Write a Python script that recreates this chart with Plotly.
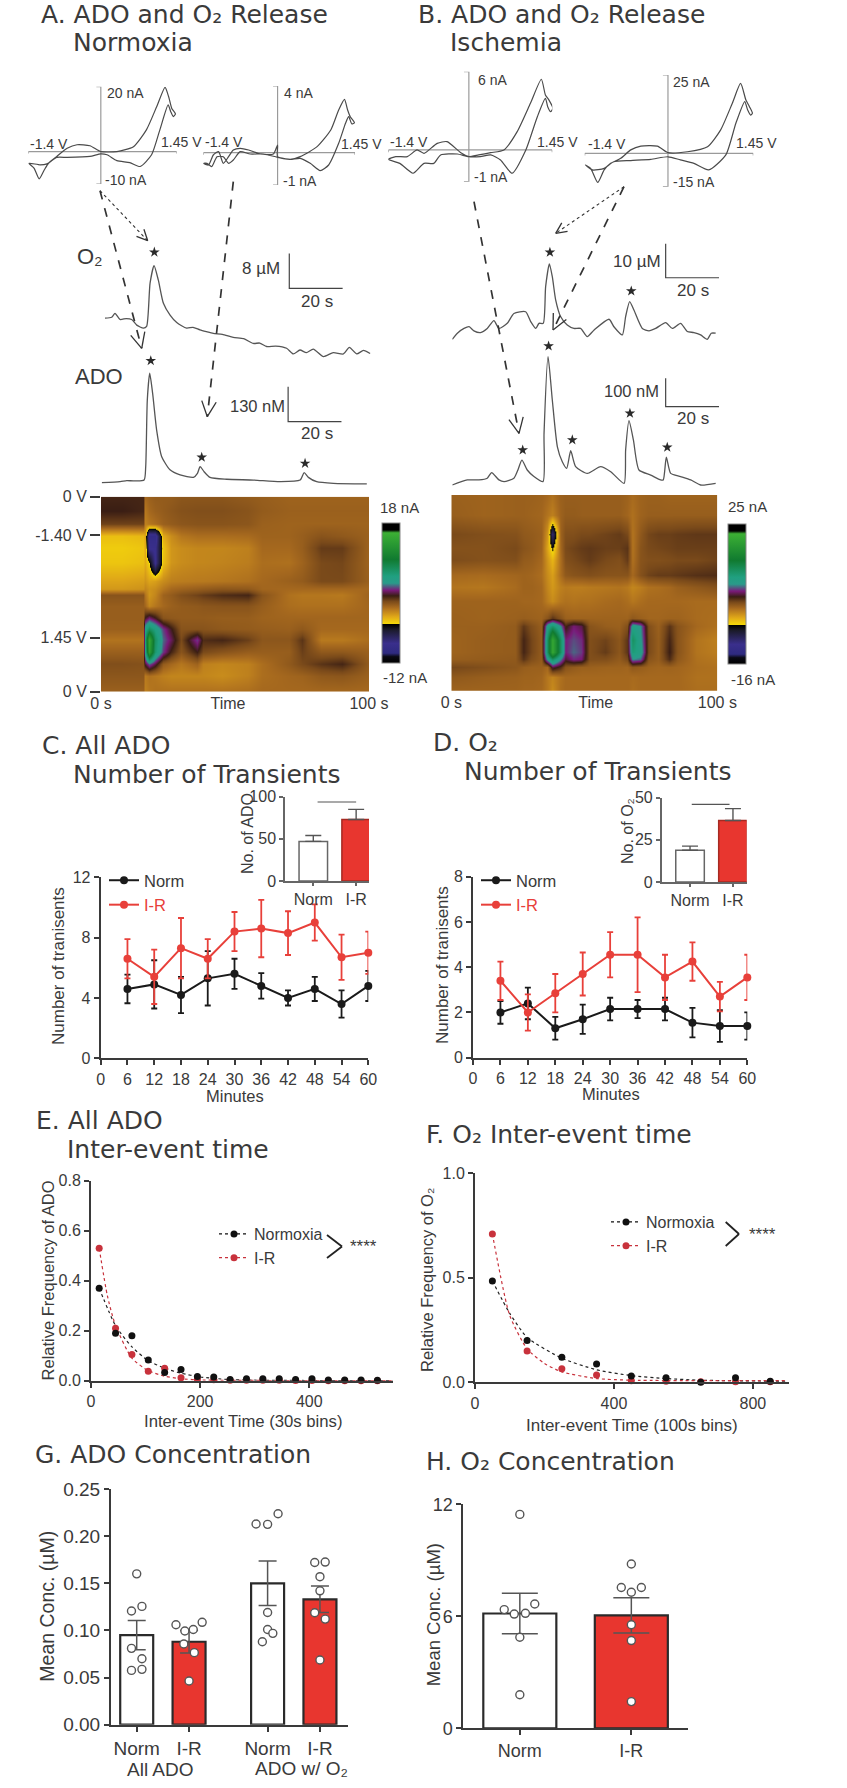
import math
import plotly.graph_objects as go

W, H = 847, 1788
INK = "#3a3a3a"
RED = "#e8362f"
TRACE = "#555555"
FONT = "Liberation Sans"
TITLE_FONT = "DejaVu Sans"

# ---------- Panel A / B traces (seconds, uM or nM) ----------
a_o2_t = [0,2.5,3.75,5.6,8,10,11.9,14.4,15.6,16.9,18.4,20,21.9,24.4,26.9,30.6,33,35.6,38,40.6,44,48.1,52,55.6,58,60.6,64,68.1,70.6,73.1,75.5,78.1,81.9,85.6,89.4,91.6,94.4,96.9,99.4]
a_o2_v = [9.2,9.4,10.3,8.9,9.1,8.9,7.6,6.9,7.3,17.2,21.2,17.9,12.6,9.9,8.2,6.9,7.1,6.5,6.1,5.7,5.5,4.8,4.5,3.4,3.5,2.7,2.8,2.3,1.0,1.9,1.3,2.1,0.4,1.3,1.0,2.5,1.0,1.8,1.1]
a_o2_bar_t = [89.1,69.1,69.1]
a_o2_bar_v = [16,16,24]
a_o2_star_t = [18.5]
a_o2_star_v = [24.3]

a_ado_t = [0,6.9,9.4,11.9,15.9,16.5,17.1,18,19.1,20.6,22.5,25.6,29.4,34.4,35.9,36.9,38.4,40.6,46.9,56.9,66.9,74.4,75.9,77.5,80.6,86.9,99.4]
a_ado_v = [2.5,6,10,9,12,62,310,409,334,198,99,50,31,22,37,62,43,22,15,12,6,12,40,22,6,0,-2]
a_ado_bar_t = [89.9,69.9,69.9]
a_ado_bar_v = [229,229,359]
a_ado_star_t = [18.4,37.5,76.25]
a_ado_star_v = [455.6,96.6,74]

b_o2_t = [0,1.9,4.4,6.3,8.1,10.6,13.1,15.6,17.5,20.6,23.1,27.5,29.4,31.3,32.5,34.1,35,36.4,37.5,38.75,40.6,43.1,45.6,48.1,50.6,53.1,58.75,60.6,63.75,65,66.5,68.1,71.25,73.75,76.25,80,82.5,85.6,88.1,90.6,93.1,95.6,97.1,98.75]
b_o2_v = [0.2,2,3.4,3.9,2.7,2.2,3.4,5.7,3.4,4.9,7.8,8.3,5.4,3.4,4.9,4.9,15.7,22.4,18.6,11.8,6.9,4.4,3.4,3.4,1,2.9,6.1,3.9,1.5,6.9,11.3,8.8,3.4,2.7,3.4,5.1,3.4,4.9,2.5,2.2,1.5,0.2,2,2]
b_o2_bar_t = [100,80,80]
b_o2_bar_v = [18.3,18.3,28.3]
b_o2_star_t = [36.6,67.1]
b_o2_star_v = [25.8,14.4]

b_ado_t = [0,5.6,10,13.1,14.75,17.5,19.4,23.1,24.6,26.1,28.1,30.6,34,34.4,35.9,37.5,39.4,41.25,42.9,44.4,46.25,50.6,55.6,59.4,64.4,65,66.25,67.9,70,74.4,78.1,79.1,80.25,81.9,85.6,89.4,93.1,98.75]
b_ado_v = [-6,12,12,18,38,12,6,18,47,82,47,24,6,176,447,294,129,76,53,115,59,35,59,41,0,118,221,153,47,29,12,12,92,35,24,12,-6,0]
b_ado_bar_t = [100,80,80]
b_ado_bar_v = [270.5,270.5,370.5]
b_ado_star_t = [36.1,26.4,45,66.6,80.6]
b_ado_star_v = [484.6,117.6,153,247,127]

# ---------- Cyclic voltammograms (V, nA) ----------
cv_a1_v = [-1.39,-1.29,-1.19,-1.09,-1.01,-.85,-.65,-.46,-.21,0,.31,.63,.88,1.08,1.24,1.31,1.37,1.44,1.40,1.35,1.30,1.14,.98,.76,.56,.31,.12,0,-.21,-.65,-.85,-1.04,-1.17,-1.39]
cv_a1_i = [-3.6,-5.1,-8.4,-5.6,-3.6,-1.5,1,2.1,1.8,0,0,1.5,6.7,13.9,19.8,16.9,13.3,11.6,10.8,12.3,14.4,6.7,-1,-4.6,-3.4,-2.8,-1,-.7,-1.5,-1.8,-1.8,-3.8,-4.1,-3.6]
cv_a2_v = [-1.41,-1.31,-1.22,-1.12,-1.03,-.93,-.84,-.71,-.55,-.33,-.08,0,0,.24,.43,.75,1.01,1.16,1.27,1.33,1.38,1.46,1.41,1.35,1.29,1.16,.97,.81,.62,.43,.24,0,-.27,-.52,-.71,-.84,-.93,-1.03,-1.15,-1.25,-1.34,-1.41]
cv_a2_i = [-.64,-.74,-.14,.06,-.64,-.24,.16,.26,.16,-.08,-.08,.46,-.24,-.4,-.24,.36,1.36,2.56,3.2,2.56,2.16,1.8,1.72,2.16,1.76,.56,-.74,-1.08,-.64,-.34,-.4,-.28,-.08,-.08,.06,-.44,-.64,-.24,-.24,-.84,-.64,-.64]
cv_b1_v = [-1.40,-1.2,-.97,-.78,-.61,-.49,-.2,0,.17,.38,.61,.84,1.07,1.26,1.33,1.39,1.46,1.42,1.37,1.33,1.19,.99,.75,.55,.38,.2,0,-.14,-.38,-.55,-.78,-.9,-1.07,-1.27,-1.40]
cv_b1_i = [-.72,-1.03,-1.79,-1.03,-1.03,-.38,-.31,-.51,-.38,-.21,0,1.41,3.59,5.44,4.23,3.85,3.2,2.95,3.33,3.97,2.56,0,-1.79,-.77,-.38,-.51,-.51,-.21,.64,.51,-.26,0,-.51,-.51,-.72]
cv_b2_v = [-1.4,-1.31,-1.19,-1.08,-.97,-.80,-.63,-.46,-.18,0,.33,.67,.89,1.09,1.23,1.32,1.38,1.43,1.40,1.35,1.3,1.15,.98,.69,.44,.21,0,-.29,-.63,-.92,-1.08,-1.28,-1.4]
cv_b2_i = [-3.7,-4.8,-9.3,-5.3,-3.2,-1.6,1.1,2.3,2.3,.2,.5,2.1,7.4,16,22.3,17,14.9,12.8,12.2,13.8,16.5,9.6,-.5,-5.3,-3.2,-2.1,-1.1,-1.9,-2.3,-2.7,-4.8,-5.3,-3.7]

# ---------- Colour plots (nA on the -12..18 scale) ----------
hm_a_t = [0,8,15.5,16.5,18,20,23,26,30,36,38,45,55,60,70,75,82,90,100]
hm_a_pos = [0,7,14,20,26,34,43,47,50,56,62,67.5,73.5,79.5,85.5,92,100]
hm_a_z = [
[2.2,2.2,2.2,0,.3,.5,.5,.5,.7,.7,.7,.7,.5,.4,.2,.2,.2,.2,.2],
[2.4,2.4,2.2,-.5,0,.3,.5,.7,.9,1,1,1,.8,.5,.3,.3,.3,.3,.3],
[1.4,1.4,1.4,-.8,-.5,-.2,.3,.5,.7,.8,.8,.8,.7,.3,.2,.2,.2,.2,.2],
[-2.8,-2.8,-2.6,-2,-9,-9,-2.2,-1.2,-.5,-.2,-.2,-.2,-.1,.2,.2,.4,.8,.6,.3],
[-3.2,-3.2,-3,-2.2,-8,-8,-3,-1.5,-1.2,-1,-1,-1,-.8,0,0,.4,1.6,1.6,.2],
[-3,-3,-2.8,-2.2,-3.5,-8,-2.8,-1.5,-1.2,-1,-1,-.9,-.7,-.2,-.3,.2,1.2,1.3,.2],
[-2,-2,-1.8,-1.5,-2,-1.8,-1.2,-.8,-.7,-.6,-.6,-.5,-.3,0,.3,.5,1.2,1.2,.3],
[-1.6,-1.6,-1.4,-1,-1.4,-1.2,-.5,0,.2,.4,.5,.7,.6,.1,0,0,0,0,0],
[.8,.8,.8,-.4,-1.5,-1,.2,.5,1,1.4,1.6,2,2.2,.8,-.3,-.5,-.5,-.6,.2],
[.4,.4,.4,0,-1,-.5,0,.3,.5,.6,.7,.8,.8,.4,-.2,-.3,-.3,-.3,.1],
[.4,.4,.4,2.5,3.5,2.5,.8,.6,.5,.5,.5,.4,.4,.2,.1,.1,.1,.1,.1],
[.3,.3,.3,6,8,6.5,4,2.5,.8,.8,.8,.6,.5,.4,.3,.6,0,0,0],
[-.4,-.4,-.4,7,15,8,4.5,3.2,1.2,4,2,2.2,1.5,.7,.7,1.8,-.6,-.6,-.2],
[.3,.3,.3,6,14,7.5,4,2.2,.8,2.4,1.2,.8,.4,.4,.4,1.5,.6,.6,.3],
[1,1,.9,2.8,4.5,3,.5,0,-.5,.2,-.8,-1,-.8,-.2,.6,1.2,1.8,2.2,.5],
[.7,.7,.7,-.6,-.3,-.5,-.8,-1,-1,-1,-1,-1.2,-.8,-.2,.1,.2,.6,.7,.3],
[.3,.3,.3,-.8,-.5,-.3,-.3,-.3,-.3,-.3,-.3,-.3,-.2,0,0,0,0,0,0],
]
hm_a_ticks = [0,19.8,72.3,100]
hm_a_ticktext = ["0 V","-1.40 V","1.45 V","0 V"]

hm_b_t = [0,12,24,27,30,34,36,38,41,43,46,49,52,58,63,66,68,71,74,78,82,85,92,100]
hm_b_pos = [0,10,20,27,33,41,47,54,63,67,74,80,84,88,93,100]
hm_b_z = [
[.3,.2,.3,.3,.3,.2,.0,-.3,.3,.4,.4,.4,.4,.4,.4,.2,-.1,.2,.3,.3,.2,.2,.2,.2],
[.4,.2,.3,.3,.2,.1,-.4,-.8,.2,.5,.5,.4,.4,.4,.4,.1,-.3,.2,.4,.4,.4,.4,.4,.4],
[1.2,1,.9,.6,.5,.3,-1.5,-7,.2,1,1,1.2,1.2,1.4,1.6,1.2,-.4,.6,1.3,1.5,1.5,1.6,1.7,1.7],
[.9,.9,1.2,.8,.6,.2,-2,-4,0,1.2,1.4,1.6,1.7,1.5,1.5,1.8,-.4,.8,1.2,1.3,1.4,1.5,1.5,1.5],
[1.1,.9,1,.5,.4,0,-1.5,-2.5,-.2,1,1.2,1.4,1.6,1.2,1.0,1.6,-.3,.8,1,1,1.1,1.2,1.2,1.4],
[.0,-.1,.1,.2,.1,-.2,-1.2,-1.8,-.2,.6,.8,.9,1,.8,.8,.8,0,.9,1.4,1.6,1.6,1.7,1.9,2],
[-.4,-.5,-.1,.2,.2,0,-1,-1.6,-.8,-.6,-.7,-.7,-.6,-.5,-.4,-.6,-1,-.7,-.3,-.2,0,.3,.6,.9],
[.2,.2,.2,.1,.1,0,-.7,-1.2,-.5,-.3,-.4,-.3,-.3,-.1,0,-.2,-.5,-.2,0,0,0,0,-.1,-.1],
[.3,.2,.3,.4,.3,.2,.8,1.8,.9,.3,.2,.2,.2,.2,.2,.2,.6,.3,.1,.1,.2,.2,-.1,-.2],
[.3,.3,.5,1.7,1.0,.4,6,7.5,5,2.2,3.5,3,.8,.4,.3,1,6,5,1,.3,1.8,.8,0,-.3],
[.2,.4,.5,2.2,1.3,.5,8,15,8,3.6,4.2,3.8,1,1.4,.7,1.8,8,5.5,1.2,.4,2.2,.8,-.4,-.8],
[.2,.4,.5,2.2,1.3,.5,8,15,8,3.6,4.5,4,1,1.6,.7,1.8,7,6,1.2,.4,2.4,.8,-.4,-.7],
[.4,.5,.6,1.8,1,.5,5.5,8,5,2.8,3.8,3.5,1,1,.5,1.2,5,4.5,.8,.4,2,.6,-.3,-.5],
[1.3,1,.7,.4,.3,.3,0,3,2,.8,.5,.3,.3,.2,.2,.1,.6,.4,.2,.1,.2,.1,-.2,-.3],
[.6,.4,.3,.2,.2,.1,-.5,-.9,-.3,0,0,0,0,0,0,0,-.1,0,0,0,0,0,-.3,-.3],
[.2,.2,.2,.1,.1,0,-.5,-1.2,-.2,0,0,0,0,0,0,0,-.2,0,0,0,0,0,-.2,-.2],
]
fscv_scale = [
[0,"#000000"],[.045,"#0a0a14"],[.07,"#2e2a80"],[.14,"#3a2f8c"],[.24,"#1a1a28"],[.275,"#000000"],
[.28,"#f5d90a"],[.33,"#e0a818"],[.38,"#b87a1e"],[.40,"#a5681e"],[.44,"#7a4a1a"],[.48,"#3a1e14"],[.52,"#7a1a7a"],[.57,"#2a9a8a"],
[.62,"#20a080"],[.74,"#107a30"],[.93,"#3cb034"],[.95,"#000000"],[1,"#000000"],
]

# ---------- Panels C / D ----------
minutes = [6,12,18,24,30,36,42,48,54,60]
minute_ticks = [0,6,12,18,24,30,36,42,48,54,60]
c_norm = [4.6,4.9,4.2,5.3,5.6,4.8,4.0,4.6,3.6,4.8]
c_norm_err = [.95,1.6,1.2,1.8,1.0,.85,.5,.8,.9,1.0]
c_ir = [6.6,5.4,7.3,6.6,8.4,8.6,8.3,9.0,6.7,7.0]
c_ir_err = [1.3,1.8,2.0,1.3,1.3,1.9,1.45,1.2,1.5,1.4]
d_norm = [2.0,2.4,1.3,1.7,2.15,2.15,2.15,1.55,1.4,1.4]
d_norm_err = [.5,.7,.5,.65,.5,.4,.5,.65,.7,.6]
d_ir = [3.4,2.0,2.85,3.7,4.55,4.55,3.55,4.25,2.7,3.55]
d_ir_err = [.85,.8,.85,.95,1.0,1.65,1.0,.85,.65,1.0]
inset_groups = ["Norm","I-R"]
c_inset = [47,73]
c_inset_err = [7,12]
d_inset = [18.8,36.5]
d_inset_err = [2.5,7]
c_sig_y = 93.7
d_sig_y = 46

# ---------- Panels E / F ----------
e_x = [15,45,75,105,135,165,195,225,255,285,315,345,375,405,435,465,495,525]
e_norm = [.37,.19,.18,.083,.033,.045,.017,.015,.005,.008,.008,.008,.005,.008,.003,.003,.003,.002]
e_ir = [.53,.21,.105,.038,.05,.012,.005,.004,.002,.002,.002,.002,.001,.001,0,0,0,0]
e_fit_norm_x = [15,45,75,105,135,165,200,250,300,553]
e_fit_norm_y = [.37,.22,.135,.08,.05,.03,.015,.005,.002,0]
e_fit_ir_x = [15,30,45,75,105,135,165,200,553]
e_fit_ir_y = [.53,.34,.22,.09,.04,.018,.008,.003,0]
f_x = [50,150,250,350,450,550,650,750,850]
f_norm = [.485,.2,.12,.088,.03,.022,0,.022,.005]
f_ir = [.71,.15,.065,.035,.008,.005,.003,.003,.003]
f_fit_norm_x = [50,100,150,250,350,450,550,650,900]
f_fit_norm_y = [.485,.33,.215,.115,.06,.032,.018,.01,.005]
f_fit_ir_x = [50,100,150,200,250,350,450,900]
f_fit_ir_y = [.71,.32,.16,.09,.05,.018,.01,.008]

# ---------- Panels G / H ----------
g_pos = [1,2,3.5,4.5]
g_ticks = ["Norm","I-R","Norm","I-R"]
g_means = [.095,.088,.15,.133]
g_errs = [.0155,.012,.0235,.014]
g_pt_x = [[1,.9,1.1,.9,1.1,.9,1.1],[1.75,1.92,2.08,2.25,1.9,2.1,2],[3.28,3.5,3.7,3.5,3.5,3.6,3.4],[4.4,4.6,4.5,4.5,4.4,4.6,4.5]]
g_pt_y = [[.16,.1206,.1255,.081,.07,.0576,.0587],[.106,.0994,.101,.1086,.0856,.0764,.0463],[.2129,.2125,.2238,.119,.101,.0969,.088],[.172,.1725,.157,.142,.1188,.112,.0686]]
h_pos = [1,2]
h_ticks = ["Norm","I-R"]
h_means = [6.15,6.05]
h_errs = [1.08,.94]
h_pt_x = [[1,.86,.95,1.05,1.134,1,1],[2,1.91,2.09,2,2,2,2]]
h_pt_y = [[11.46,6.36,6.12,6.16,6.66,4.875,1.8],[8.8,7.54,7.54,7.29,5.55,4.7,1.43]]

# ---------- Helpers ----------
fig = go.Figure()
layout_axes = {}
counter = [1]
annots = []
shapes = []

def px_x(x): return x / W
def px_y(y): return 1 - y / H

def axes(l, r, t, b, xr, yr, xopt=None, yopt=None):
    counter[0] += 1
    n = counter[0]
    xa = dict(domain=[px_x(l), px_x(r)], anchor=f"y{n}", range=xr, visible=False, fixedrange=True)
    ya = dict(domain=[px_y(b), px_y(t)], anchor=f"x{n}", range=yr, visible=False, fixedrange=True)
    if xopt: xa.update(xopt)
    if yopt: ya.update(yopt)
    layout_axes[f"xaxis{n}"] = xa
    layout_axes[f"yaxis{n}"] = ya
    return f"x{n}", f"y{n}"

def vis(size=16, width=2, ticklen=5, **kw):
    d = dict(visible=True, showline=True, linecolor=INK, linewidth=width, ticks="outside", ticklen=ticklen,
             tickwidth=width, tickcolor=INK, tickfont=dict(size=size, color=INK, family=FONT),
             showgrid=False, zeroline=False)
    d.update(kw)
    return d

def txt(x, y, s, size=15, anchor="left", color=INK, angle=0, family=FONT):
    annots.append(dict(xref="paper", yref="paper", x=px_x(x), y=px_y(y), text=s, showarrow=False,
                       xanchor=anchor, yanchor="middle", textangle=angle,
                       font=dict(size=size, color=color, family=family)))

def title(x, y, s):
    txt(x, y, s, 25, family=TITLE_FONT)

def seg(x0, y0, x1, y1, color=INK, width=1.5, dash="solid"):
    shapes.append(dict(type="line", xref="paper", yref="paper", x0=px_x(x0), y0=px_y(y0), x1=px_x(x1), y1=px_y(y1),
                       line=dict(color=color, width=width, dash=dash)))

def arrow(x0, y0, x1, y1, dash, width, head):
    seg(x0, y0, x1, y1, "#333333", width, dash)
    ang = math.atan2(y1 - y0, x1 - x0)
    for d in (2.7, -2.7):
        seg(x1, y1, x1 + head * math.cos(ang + d), y1 + head * math.sin(ang + d), "#333333", 1.3)

def line_trace(xs, ys, ax, color=TRACE, width=1.3, spline=True, dash="solid"):
    fig.add_trace(go.Scatter(x=xs, y=ys, xaxis=ax[0], yaxis=ax[1], mode="lines", showlegend=False, cliponaxis=False,
                             line=dict(color=color, width=width, shape="spline" if spline else "linear",
                                       smoothing=0.6, dash=dash),
                             hoverinfo="skip"))

def stars(xs, ys, ax):
    fig.add_trace(go.Scatter(x=xs, y=ys, xaxis=ax[0], yaxis=ax[1], mode="markers", showlegend=False, cliponaxis=False,
                             marker=dict(symbol="star", size=8, color="#2a2a2a"), hoverinfo="skip"))

def trace_panel(l, r, t, b, yr, ts, vs, bt, bv, st, sv):
    ax = axes(l, r, t, b, [0, 100], yr)
    line_trace(ts, vs, ax)
    line_trace(bt, bv, ax, color="#444444", width=1.2, spline=False)
    stars(st, sv, ax)

def cv_panel(l, r, t, b, xr, yr, vs, cs):
    ax = axes(l, r, t, b, xr, yr)
    gray = "#9a9a9a"
    line_trace([xr[0], xr[0], None, xr[0], xr[1], None, xr[1], xr[1]],
               [0, -(yr[1] - yr[0]) * .02, None, 0, 0, None, 0, -(yr[1] - yr[0]) * .02], ax, gray, 1.2, False)
    dx = (xr[1] - xr[0]) * .03
    line_trace([-dx, 0, 0, -dx], [yr[1], yr[1], yr[0], yr[0]], ax, gray, 1.2, False)
    line_trace(vs, cs, ax, "#4a4a4a", 1.2)

# ---------- Panel titles ----------
title(39, 14, "A. ADO and O₂ Release")
title(71, 42, "Normoxia")
title(416, 14, "B. ADO and O₂ Release")
title(448, 42, "Ischemia")
title(40, 745, "C. All ADO")
title(71, 774, "Number of Transients")
title(431, 742, "D. O₂")
title(462, 771, "Number of Transients")
title(34, 1120, "E. All ADO")
title(65, 1149, "Inter-event time")
title(424, 1134, "F. O₂ Inter-event time")
title(33, 1454, "G. ADO Concentration")
title(424, 1461, "H. O₂ Concentration")

# ---------- Voltammograms ----------
cv_panel(28.3, 176.7, 86.7, 184, [-1.40, 1.465], [-10, 20], cv_a1_v, cv_a1_i)
cv_panel(203.3, 355, 86, 185, [-1.41, 1.47], [-1.94, 4], cv_a2_v, cv_a2_i)
cv_panel(388.3, 552.3, 71.7, 181.7, [-1.40, 1.45], [-2.44, 6.02], cv_b1_v, cv_b1_i)
cv_panel(584.7, 753.3, 75, 186.7, [-1.41, 1.445], [-10.65, 25], cv_b2_v, cv_b2_i)
for x, y, s in [(28,144,"-1.4 V"),(105,93,"20 nA"),(159,142,"1.45 V"),(103,180,"-10 nA"),
                (203,142,"-1.4 V"),(282,93,"4 nA"),(339,144,"1.45 V"),(281,181,"-1 nA"),
                (388,142,"-1.4 V"),(475.7,80,"6 nA"),(535,142,"1.45 V"),(472,177,"-1 nA"),
                (585.7,144,"-1.4 V"),(671,82,"25 nA"),(734,143,"1.45 V"),(671,182,"-15 nA")]:
    txt(x, y, s, 14)

# ---------- Amperometric traces ----------
trace_panel(105, 371.7, 240, 360, [-0.39, 27.1], a_o2_t, a_o2_v, a_o2_bar_t, a_o2_bar_v, a_o2_star_t, a_o2_star_v)
trace_panel(101.7, 368.4, 350, 490, [-24.9, 495.5], a_ado_t, a_ado_v, a_ado_bar_t, a_ado_bar_v, a_ado_star_t, a_ado_star_v)
trace_panel(452.3, 719, 240, 345, [-1.47, 29.4], b_o2_t, b_o2_v, b_o2_bar_t, b_o2_bar_v, b_o2_star_t, b_o2_star_v)
trace_panel(452.3, 719, 335, 490, [-23.6, 523.5], b_ado_t, b_ado_v, b_ado_bar_t, b_ado_bar_v, b_ado_star_t, b_ado_star_v)
txt(75, 257, "O₂", 22)
txt(73, 377, "ADO", 22)
txt(281.7, 268, "8 µM", 17, "right")
txt(316.7, 301, "20 s", 17, "center")
txt(286.7, 406, "130 nM", 16.5, "right")
txt(316.7, 433, "20 s", 17, "center")
txt(663.3, 261.7, "10 µM", 17, "right")
txt(693.3, 290.7, "20 s", 17, "center")
txt(661.3, 390.7, "100 nM", 16.5, "right")
txt(693.3, 418.7, "20 s", 17, "center")

arrow(100, 190.7, 141.7, 348.3, "dash", 1.7, 17)
arrow(100, 190.7, 147.7, 240.7, "dot", 1.1, 12)
arrow(233.3, 181.7, 207.3, 416.7, "dash", 1.7, 17)
arrow(474, 201.7, 519, 433.3, "dash", 1.7, 17)
arrow(624, 186.7, 555.7, 233.3, "dot", 1.1, 12)
arrow(624, 186.7, 553, 330, "dash", 1.7, 17)

# ---------- Colour plots ----------
hm_a_ax = axes(101, 369, 496.7, 691.7, [0, 100], [100, 0],
               xopt=vis(16, 0, 0, showline=False, ticks="", tickvals=[0, 47.4, 100], ticktext=["0 s", "Time", "100 s"]),
               yopt=vis(16, 1.5, 10, showline=False, tickvals=hm_a_ticks, ticktext=hm_a_ticktext))
fig.add_trace(go.Heatmap(x=hm_a_t, y=hm_a_pos, z=hm_a_z, xaxis=hm_a_ax[0], yaxis=hm_a_ax[1], zmin=-12, zmax=18,
                         colorscale=fscv_scale, zsmooth="best", hoverinfo="skip",
                         colorbar=dict(thickness=18, thicknessmode="pixels", len=140, lenmode="pixels", x=px_x(382),
                                       xanchor="left", y=px_y(593), yanchor="middle", ticks="", showticklabels=False,
                                       outlinecolor="#888888", outlinewidth=1, xpad=0, ypad=0)))
hm_b_ax = axes(451.3, 717.3, 495, 690.7, [0, 100], [100, 0],
               xopt=vis(16, 0, 0, showline=False, ticks="", tickvals=[0, 54.3, 100], ticktext=["0 s", "Time", "100 s"]))
fig.add_trace(go.Heatmap(x=hm_b_t, y=hm_b_pos, z=hm_b_z, xaxis=hm_b_ax[0], yaxis=hm_b_ax[1], zmin=-12, zmax=18,
                         colorscale=fscv_scale, zsmooth="best", hoverinfo="skip",
                         colorbar=dict(thickness=18, thicknessmode="pixels", len=140, lenmode="pixels", x=px_x(728),
                                       xanchor="left", y=px_y(594), yanchor="middle", ticks="", showticklabels=False,
                                       outlinecolor="#888888", outlinewidth=1, xpad=0, ypad=0)))
txt(377.7, 507.7, "18 nA", 15)
txt(380.7, 678, "-12 nA", 15)
txt(726.3, 506.7, "25 nA", 15)
txt(729, 679.3, "-16 nA", 15)

# ---------- C / D time courses ----------
def timecourse(l, r, t, b, ymax, yticks, norm, norm_e, ir, ir_e, legend_name):
    ax = axes(l, r, t, b, [0, 60], [0, ymax],
              xopt=vis(16, tickvals=minute_ticks),
              yopt=vis(16, tickvals=yticks))
    for name, vals, errs, col in [("Norm", norm, norm_e, "#1a1a1a"),
                                  ('<span style="color:#e8403a">I-R</span>', ir, ir_e, "#e8403a")]:
        fig.add_trace(go.Scatter(x=minutes, y=vals, xaxis=ax[0], yaxis=ax[1], name=name, mode="lines+markers",
                                 cliponaxis=False, legend=legend_name,
                                 line=dict(color=col, width=2), marker=dict(color=col, size=8),
                                 error_y=dict(type="data", array=errs, color=col, thickness=1.8, width=3)))
    return ax

timecourse(100.7, 368.3, 877.3, 1058.3, 12, [0, 4, 8, 12], c_norm, c_norm_err, c_ir, c_ir_err, "legend")
timecourse(473, 747.3, 876.7, 1057.7, 8, [0, 2, 4, 6, 8], d_norm, d_norm_err, d_ir, d_ir_err, "legend2")
txt(58, 966, "Number of tranisents", 17, "center", angle=-90)
txt(235, 1096, "Minutes", 16.5, "center")
txt(442, 965, "Number of tranisents", 17, "center", angle=-90)
txt(610.7, 1094, "Minutes", 16.5, "center")

def inset(l, r, t, b, xr, ymax, yticks, vals, errs, sig_y, sig_x, line_w=1.5):
    ax = axes(l, r, t, b, xr, [0, ymax],
              xopt=vis(16, 1.5, 3, tickvals=[1, 2], ticktext=inset_groups, linecolor="#666666", tickcolor="#666666"),
              yopt=vis(16, 1.5, 4, tickvals=yticks, linecolor="#666666", tickcolor="#666666"))
    fig.add_trace(go.Bar(x=[1, 2], y=vals, xaxis=ax[0], yaxis=ax[1], width=.665, showlegend=False,
                         marker=dict(color=["white", RED], line=dict(color=["#666666", "#a52a22"], width=line_w)),
                         error_y=dict(type="data", symmetric=False, array=errs, arrayminus=[0, 0],
                                      color="#555555", thickness=1.4, width=8), hoverinfo="skip"))
    line_trace(sig_x, [sig_y, sig_y], ax, "#555555", 1.2, False)

inset(285, 369, 796.7, 881, [.34, 2.3], 100, [0, 50, 100], c_inset, c_inset_err, c_sig_y, [1.1, 2.0])
inset(661.7, 746.7, 797.7, 882, [.34, 2.32], 50, [0, 25, 50], d_inset, d_inset_err, d_sig_y, [1.04, 1.92])
txt(248, 833, "No. of ADO", 16, "center", angle=-90)
txt(627, 831, "No. of O₂", 16, "center", angle=-90)

# ---------- E / F frequency ----------
DOT_RED = "#c8323c"
def freq(l, r, t, b, xr, yr, xticks, yticks, x, norm, ir, fnx, fny, fix, fiy, legend_name):
    ax = axes(l, r, t, b, xr, yr, xopt=vis(16, tickvals=xticks), yopt=vis(16, tickvals=yticks, tickformat=".1f"))
    line_trace(fnx, fny, ax, "#222222", 1.2, dash="dot")
    line_trace(fix, fiy, ax, DOT_RED, 1.2, dash="dot")
    for vals, col in [(ir, DOT_RED), (norm, "#111111")]:
        fig.add_trace(go.Scatter(x=x, y=vals, xaxis=ax[0], yaxis=ax[1], mode="markers", cliponaxis=False,
                                 showlegend=False, marker=dict(color=col, size=7), hoverinfo="skip"))
    for name, col in [("Normoxia", "#111111"), ("I-R", DOT_RED)]:
        fig.add_trace(go.Scatter(x=[None], y=[None], xaxis=ax[0], yaxis=ax[1], mode="lines+markers", name=name,
                                 legend=legend_name, line=dict(color=col, width=1.2, dash="dot"),
                                 marker=dict(color=col, size=7)))

freq(91, 392.7, 1180.7, 1380.7, [0, 553], [0, .8], [0, 200, 400], [0, .2, .4, .6, .8],
     e_x, e_norm, e_ir, e_fit_norm_x, e_fit_norm_y, e_fit_ir_x, e_fit_ir_y, "legend3")
freq(475, 789, 1173.3, 1382.3, [0, 904], [0, 1], [0, 400, 800], [0, .5, 1],
     f_x, f_norm, f_ir, f_fit_norm_x, f_fit_norm_y, f_fit_ir_x, f_fit_ir_y, "legend4")
txt(47.7, 1280.7, "Relative Frequency of ADO", 16.5, "center", angle=-90)
txt(243, 1421, "Inter-event Time (30s bins)", 16.7, "center")
txt(427, 1280, "Relative Frequency of O₂", 16.5, "center", angle=-90)
txt(632, 1425, "Inter-event Time (100s bins)", 17, "center")
for (x0, x1, y0, y1) in [(327, 342, 1235, 1258), (725.7, 739, 1222, 1246)]:
    seg(x0, y0, x1, (y0 + y1) / 2, "#222222", 1.8)
    seg(x1, (y0 + y1) / 2, x0, y1, "#222222", 1.8)
txt(347.7, 1246, "****", 17)
txt(747.3, 1234, "****", 17)

# ---------- G / H bars ----------
def conc(l, r, t, b, xr, ymax, yticks, yfmt, pos, labels, means, errs, ptx, pty, width, capw, size):
    ax = axes(l, r, t, b, xr, [0, ymax],
              xopt=vis(size, tickvals=pos, ticktext=labels),
              yopt=vis(size, tickvals=yticks, tickformat=yfmt))
    colors = ["white" if i % 2 == 0 else RED for i in range(len(pos))]
    fig.add_trace(go.Bar(x=pos, y=means, xaxis=ax[0], yaxis=ax[1], width=width, showlegend=False,
                         marker=dict(color=colors, line=dict(color="#2a2a2a", width=2.2)),
                         error_y=dict(type="data", array=errs, color="#555555", thickness=1.5, width=capw),
                         hoverinfo="skip"))
    for xs, ys in zip(ptx, pty):
        fig.add_trace(go.Scatter(x=xs, y=ys, xaxis=ax[0], yaxis=ax[1], mode="markers", showlegend=False,
                                 cliponaxis=False, hoverinfo="skip",
                                 marker=dict(color="white", size=8, line=dict(color="#555555", width=1.4))))

conc(111, 347.7, 1489, 1724.7, [.509, 5.03], .25, [0, .05, .1, .15, .2, .25], ".2f",
     g_pos, g_ticks, g_means, g_errs, g_pt_x, g_pt_y, .63, 9, 19)
conc(463.3, 688.3, 1504.3, 1728.3, [.493, 2.511], 12, [0, 6, 12], "d",
     h_pos, h_ticks, h_means, h_errs, h_pt_x, h_pt_y, .655, 18, 18)
txt(46.7, 1606, "Mean Conc. (µM)", 19.5, "center", angle=-90)
txt(160, 1769, "All ADO", 19, "center")
txt(301.7, 1768, "ADO w/ O₂", 19, "center")
txt(433.3, 1615, "Mean Conc. (µM)", 18.5, "center", angle=-90)

# ---------- Legends ----------
def leg(x, y, size):
    return dict(x=px_x(x), y=px_y(y), xanchor="left", yanchor="top", bgcolor="rgba(0,0,0,0)", borderwidth=0,
                font=dict(size=size, color=INK, family=FONT), itemwidth=30, tracegroupgap=0, traceorder="normal")

fig.update_layout(
    width=W, height=H, margin=dict(l=0, r=0, t=0, b=0, autoexpand=False),
    paper_bgcolor="white", plot_bgcolor="rgba(0,0,0,0)", barmode="overlay",
    font=dict(family=FONT, color=INK), annotations=annots, shapes=shapes, showlegend=True,
    legend=leg(104, 863, 16.5), legend2=leg(476, 863, 16.5),
    legend3=leg(214, 1217, 16), legend4=leg(606, 1205, 16),
    **layout_axes,
)
fig.write_html("out.html", post_script="document.body.style.margin='0';", config=dict(displayModeBar=False))
